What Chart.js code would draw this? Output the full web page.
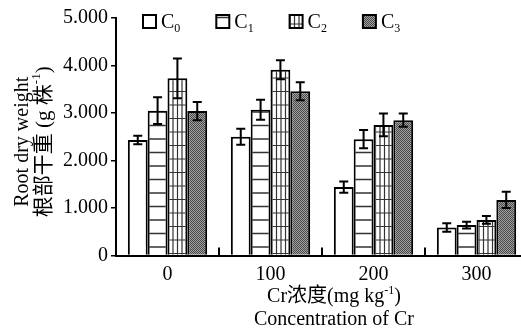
<!DOCTYPE html>
<html>
<head>
<meta charset="utf-8">
<script src="https://cdn.jsdelivr.net/npm/chart.js@4/dist/chart.umd.min.js"></script>
<style>
  html, body { margin: 0; padding: 0; background: #fff; overflow: hidden; }
</style>
</head>
<body>
<canvas id="rootChart" width="528" height="332"></canvas>
<script>
// data
const categories = ['0', '100', '200', '300'];
const seriesLabels = ['C0', 'C1', 'C2', 'C3'];
const c0 = [2.43, 2.50, 1.44, 0.59];
const c0Err = [0.09, 0.17, 0.12, 0.09];
const c1 = [3.05, 3.07, 2.45, 0.64];
const c1Err = [0.28, 0.21, 0.19, 0.07];
const c2 = [3.73, 3.91, 2.75, 0.75];
const c2Err = [0.42, 0.20, 0.24, 0.08];
const c3 = [3.04, 3.46, 2.85, 1.17];
const c3Err = [0.19, 0.19, 0.14, 0.17];
const yMin = 0, yMax = 5, yStep = 1;

const serif = "'Liberation Serif', 'Times New Roman', serif";
const cjk = "'Liberation Serif', 'Noto Sans CJK SC', serif";

// fill patterns
function makePattern(w, h, draw) {
  const c = document.createElement('canvas');
  c.width = w; c.height = h;
  const g = c.getContext('2d');
  g.fillStyle = '#fff';
  g.fillRect(0, 0, w, h);
  draw(g);
  return g.createPattern(c, 'repeat');
}
const ctx = document.getElementById('rootChart').getContext('2d');
const plainFill = '#ffffff';
const hLineFill = makePattern(8, 27, g => {
  g.strokeStyle = '#333'; g.lineWidth = 1.5;
  g.beginPath();
  g.moveTo(0, 4); g.lineTo(8, 4);
  g.moveTo(0, 17.5); g.lineTo(8, 17.5);
  g.stroke();
});
const gridFill = makePattern(9, 27, g => {
  g.strokeStyle = '#333'; g.lineWidth = 1.2;
  g.beginPath();
  g.moveTo(0, 10.5); g.lineTo(9, 10.5);
  g.moveTo(0, 24); g.lineTo(9, 24);
  g.moveTo(2, 0); g.lineTo(2, 27);
  g.moveTo(6.5, 0); g.lineTo(6.5, 27);
  g.stroke();
});
const dotFill = makePattern(2, 2, g => {
  g.fillStyle = '#a0a0a0'; g.fillRect(0, 0, 2, 2);
  g.fillStyle = '#4a4a4a'; g.fillRect(0, 0, 1, 1); g.fillRect(1, 1, 1, 1);
});

const values = [c0, c1, c2, c3];
const errors = [c0Err, c1Err, c2Err, c3Err];
const fills = [plainFill, hLineFill, gridFill, dotFill];

const datasets = seriesLabels.map((name, i) => ({
  label: name,
  data: values[i],
  errors: errors[i],
  backgroundColor: fills[i],
  borderColor: '#000',
  borderWidth: 2,
  barPercentage: 1,
  categoryPercentage: 0.77
}));

// draws error bars from the dataset's errors
const errorBars = {
  id: 'errorBars',
  afterDatasetsDraw(chart) {
    const c = chart.ctx, y = chart.scales.y;
    c.save();
    c.strokeStyle = '#000';
    c.lineWidth = 2;
    chart.data.datasets.forEach((ds, i) => {
      chart.getDatasetMeta(i).data.forEach((bar, j) => {
        const v = ds.data[j], e = ds.errors[j];
        const top = y.getPixelForValue(v + e), bot = y.getPixelForValue(v - e);
        c.beginPath();
        c.moveTo(bar.x, top); c.lineTo(bar.x, bot);
        c.moveTo(bar.x - 4.5, top); c.lineTo(bar.x + 4.5, top);
        c.moveTo(bar.x - 4.5, bot); c.lineTo(bar.x + 4.5, bot);
        c.stroke();
      });
    });
    c.restore();
  }
};

// small inward ticks between categories
const innerTicks = {
  id: 'innerTicks',
  afterDraw(chart) {
    const c = chart.ctx, x = chart.scales.x, bottom = chart.chartArea.bottom;
    c.save();
    c.strokeStyle = '#000';
    c.lineWidth = 2;
    for (let i = 0; i < categories.length - 1; i++) {
      const px = (x.getPixelForValue(i) + x.getPixelForValue(i + 1)) / 2;
      c.beginPath();
      c.moveTo(px, bottom); c.lineTo(px, bottom - 8);
      c.stroke();
    }
    c.restore();
  }
};

// text with superscript/subscript parts
function richWidth(c, parts, size) {
  let w = 0;
  parts.forEach(p => {
    c.font = (p.sup || p.sub ? Math.round(size * 0.62) : size) + 'px ' + cjk;
    w += c.measureText(p.t).width;
  });
  return w;
}
function drawRich(c, parts, x, y, size) {
  let px = x;
  parts.forEach(p => {
    const s = p.sup || p.sub ? Math.round(size * 0.62) : size;
    c.font = s + 'px ' + cjk;
    const dy = p.sup ? -size * 0.33 : p.sub ? size * 0.18 : 0;
    c.fillText(p.t, px, y + dy);
    px += c.measureText(p.t).width;
  });
}

const titles = {
  id: 'titles',
  afterDraw(chart) {
    const c = chart.ctx, a = chart.chartArea;
    c.save();
    c.fillStyle = '#000';
    c.textBaseline = 'middle';
    c.textAlign = 'left';
    // x axis title
    const xt1 = [{t: 'Cr浓度(mg kg'}, {t: '-1', sup: true}, {t: ')'}];
    const xt2 = [{t: 'Concentration of Cr'}];
    const cx = (a.left + a.right) / 2 + 12;
    drawRich(c, xt1, cx - richWidth(c, xt1, 20) / 2, 297, 20);
    drawRich(c, xt2, cx - richWidth(c, xt2, 20) / 2, 320, 20);
    // y axis title
    const yt1 = [{t: 'Root dry weight'}];
    const yt2 = [{t: '根部干重 (g 株'}, {t: '-1', sup: true}, {t: ')'}];
    const cy = (a.top + a.bottom) / 2 + 5;
    c.translate(0, cy);
    c.rotate(-Math.PI / 2);
    drawRich(c, yt1, -richWidth(c, yt1, 20) / 2, 23, 20);
    drawRich(c, yt2, -richWidth(c, yt2, 21) / 2, 44, 21);
    c.restore();

    // legend
    c.save();
    c.textBaseline = 'alphabetic';
    chart.data.datasets.forEach((ds, i) => {
      const bx = 143 + i * 73.3, by = 15;
      c.fillStyle = ds.backgroundColor;
      c.fillRect(bx, by, 13, 13);
      c.strokeStyle = '#000';
      c.lineWidth = 2;
      c.strokeRect(bx, by, 13, 13);
      c.fillStyle = '#000';
      drawRich(c, [{t: ds.label[0]}, {t: ds.label.slice(1), sub: true}], bx + 18, 28, 20);
    });
    c.restore();
  }
};

new Chart(ctx, {
  type: 'bar',
  data: { labels: categories, datasets: datasets },
  options: {
    responsive: false,
    animation: false,
    layout: { padding: { top: 18, right: 0, bottom: 0, left: 0 } },
    plugins: { legend: { display: false }, tooltip: { enabled: false } },
    scales: {
      x: {
        afterFit(s) { s.height = 76.5; },
        grid: { display: false },
        border: { color: '#000', width: 2 },
        ticks: { color: '#000', font: { family: serif, size: 20 }, padding: -1 }
      },
      y: {
        min: yMin, max: yMax,
        afterFit(s) { s.width = 116; },
        grid: { drawOnChartArea: false, color: '#000', lineWidth: 1.5, tickLength: 5 },
        border: { color: '#000', width: 2 },
        ticks: {
          stepSize: yStep,
          color: '#000',
          padding: 3,
          font: { family: serif, size: 20 },
          callback: v => v === 0 ? '0' : v.toFixed(3)
        }
      }
    }
  },
  plugins: [errorBars, innerTicks, titles]
});
</script>
</body>
</html>
